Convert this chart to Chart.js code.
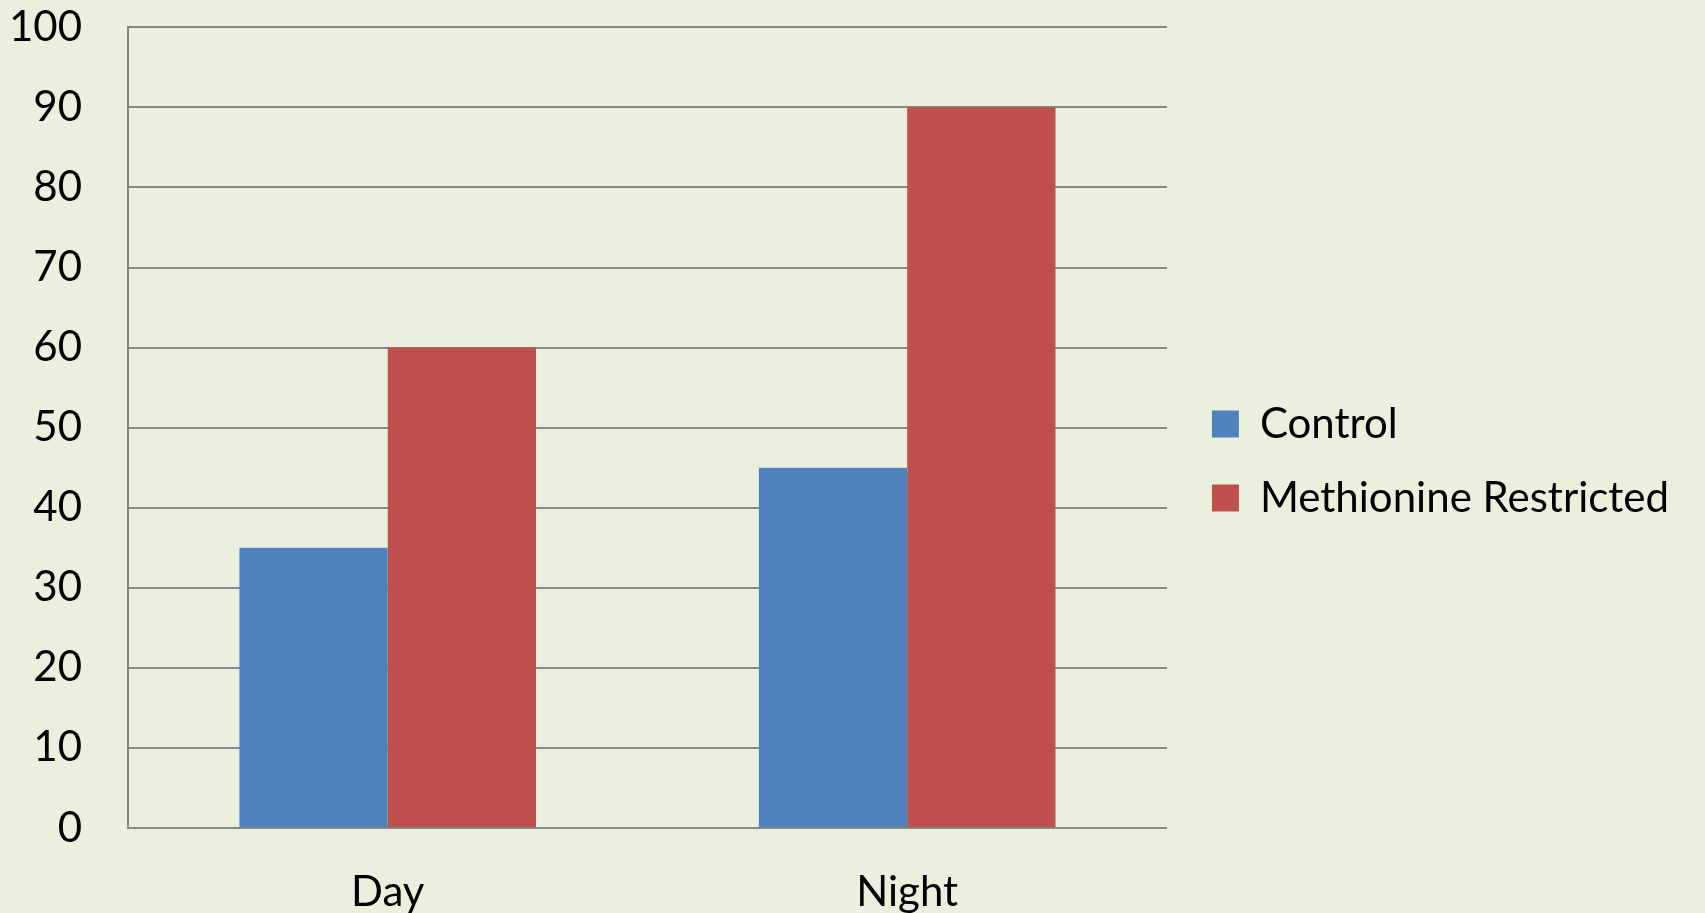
<!DOCTYPE html>
<html>
<head>
<meta charset="utf-8">
<script src="https://cdn.jsdelivr.net/npm/chart.js@4/dist/chart.umd.min.js"></script>
<style>
  html, body { margin: 0; padding: 0; background: #ebf0de; }
  #wrap { width: 1705px; height: 913px; position: relative; }
</style>
</head>
<body>
<div id="wrap"><canvas id="chart"></canvas></div>
<script>
// --- Data ---
const categories = ["Day", "Night"];
const controlValues = [35, 45];
const restrictedValues = [60, 90];
const seriesNames = ["Control", "Methionine Restricted"];

const blue = "#4f81bd";
const red = "#c0504d";
const gridGray = "#878787";
const font = { family: "Lato", size: 42 };

const ctx = document.getElementById("chart").getContext("2d");

new Chart(ctx, {
  type: "bar",
  data: {
    labels: categories,
    datasets: [
      { label: seriesNames[0], data: controlValues, backgroundColor: blue },
      { label: seriesNames[1], data: restrictedValues, backgroundColor: red },
    ],
  },
  options: {
    responsive: true,
    maintainAspectRatio: false,
    animation: false,
    categoryPercentage: 0.571,
    barPercentage: 1,
    layout: { padding: { top: 9, right: 26, bottom: 0, left: 0 } },
    plugins: {
      tooltip: { enabled: false },
      legend: {
        position: "right",
        maxWidth: 600,
        labels: {
          color: "#000",
          font: font,
          boxWidth: 27,
          boxHeight: 27,
          padding: 32,
        },
      },
    },
    scales: {
      x: {
        grid: { display: false, drawTicks: false },
        border: { display: false },
        ticks: { color: "#000", font: font, padding: 39 },
        afterFit: (s) => { s.height = 85; },
      },
      y: {
        min: 0,
        max: 100,
        // taller line height leaves room above the "100" label
        ticks: { stepSize: 10, color: "#000", font: { ...font, lineHeight: 1.3 }, padding: 0 },
        // invisible tick marks keep the labels clear of the axis
        grid: { color: gridGray, lineWidth: 2, drawTicks: true, tickLength: 46, tickColor: "rgba(0,0,0,0)" },
        border: { color: gridGray, width: 2 },
        afterFit: (s) => { s.width = 128; },
      },
      // empty spacer between plot and legend
      gutter: {
        position: "right",
        display: true,
        grid: { display: false, drawTicks: false },
        border: { display: false },
        ticks: { display: false },
        afterFit: (s) => { s.width = 13; },
      },
    },
  },
});
</script>
</body>
</html>
